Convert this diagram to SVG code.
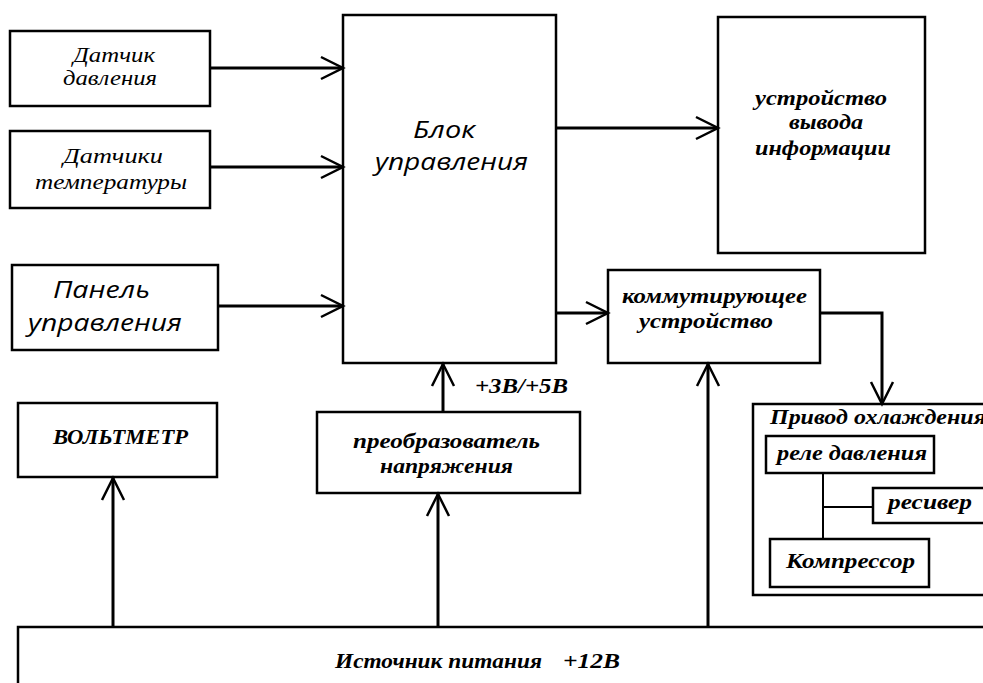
<svg xmlns="http://www.w3.org/2000/svg" width="983" height="683" viewBox="0 0 983 683">
<style>
.box{fill:#fff;stroke:#000;stroke-width:2.5}
.ln{fill:none;stroke:#000;stroke-width:3}
.thin{fill:none;stroke:#000;stroke-width:2}
.ser{font-family:"Liberation Serif",serif;font-style:italic;fill:#000;font-size:22px}
.b{font-weight:bold}
.sans{font-family:"Open Sans","Liberation Sans",sans-serif;font-style:italic;fill:#000;font-size:23px}
</style>
<defs>
<marker id="ah" markerUnits="userSpaceOnUse" markerWidth="30" markerHeight="26" viewBox="0 0 30 26" refX="25" refY="13" orient="auto">
<path d="M3,2 L25,13 L3,24" fill="none" stroke="#000" stroke-width="2.5"/>
</marker>
</defs>
<rect width="983" height="683" fill="#fff"/>
<g id="datchik-davleniya">
<rect class="box" x="10" y="31" width="200" height="75"/>
<text class="ser" x="73" y="62" textLength="82" lengthAdjust="spacingAndGlyphs">Датчик</text>
<text class="ser" x="63" y="85" textLength="94" lengthAdjust="spacingAndGlyphs">давления</text>
</g>
<g id="datchiki-temperatury">
<rect class="box" x="10" y="131" width="200" height="77"/>
<text class="ser" x="63" y="163" textLength="100" lengthAdjust="spacingAndGlyphs">Датчики</text>
<text class="ser" x="35" y="189" textLength="152" lengthAdjust="spacingAndGlyphs">температуры</text>
</g>
<g id="panel-upravleniya">
<rect class="box" x="12" y="265" width="206" height="85"/>
<text class="sans" x="53" y="298" textLength="97" lengthAdjust="spacingAndGlyphs">Панель</text>
<text class="sans" x="28" y="331" textLength="154" lengthAdjust="spacingAndGlyphs">управления</text>
</g>
<g id="blok-upravleniya">
<rect class="box" x="343" y="15" width="213" height="348"/>
<text class="sans" x="413" y="138" textLength="62" lengthAdjust="spacingAndGlyphs">Блок</text>
<text class="sans" x="375" y="170" textLength="153" lengthAdjust="spacingAndGlyphs">управления</text>
</g>
<g id="ustroystvo-vyvoda">
<rect class="box" x="718" y="17" width="207" height="236"/>
<text class="ser b" x="755" y="105" textLength="132" lengthAdjust="spacingAndGlyphs">устройство</text>
<text class="ser b" x="789" y="129" textLength="74" lengthAdjust="spacingAndGlyphs">вывода</text>
<text class="ser b" x="755" y="155" textLength="136" lengthAdjust="spacingAndGlyphs">информации</text>
</g>
<g id="kommutiruyushchee">
<rect class="box" x="608" y="270" width="212" height="93"/>
<text class="ser b" x="622" y="303" textLength="185" lengthAdjust="spacingAndGlyphs">коммутирующее</text>
<text class="ser b" x="639" y="328" textLength="134" lengthAdjust="spacingAndGlyphs">устройство</text>
</g>
<g id="privod-okhlazhdeniya">
<rect class="box" x="753" y="404" width="240" height="191"/>
<text class="ser b" x="770" y="424" textLength="216" lengthAdjust="spacingAndGlyphs">Привод охлаждения</text>
</g>
<g id="rele-davleniya">
<rect class="box" x="766" y="436" width="168" height="37"/>
<text class="ser b" x="777" y="460" textLength="150" lengthAdjust="spacingAndGlyphs">реле давления</text>
</g>
<g id="resiver">
<rect class="box" x="873" y="488" width="120" height="35"/>
<text class="ser b" x="888" y="509" textLength="84" lengthAdjust="spacingAndGlyphs">ресивер</text>
</g>
<g id="kompressor">
<rect class="box" x="770" y="539" width="159" height="48"/>
<text class="ser b" x="786" y="568" textLength="129" lengthAdjust="spacingAndGlyphs">Компрессор</text>
</g>
<g id="voltmetr">
<rect class="box" x="18" y="403" width="199" height="74"/>
<text class="ser b" font-size="20" x="53" y="444" textLength="135" lengthAdjust="spacingAndGlyphs">ВОЛЬТМЕТР</text>
</g>
<g id="preobrazovatel">
<rect class="box" x="317" y="412" width="263" height="81"/>
<text class="ser b" x="353" y="448" textLength="187" lengthAdjust="spacingAndGlyphs">преобразователь</text>
<text class="ser b" x="380" y="473" textLength="133" lengthAdjust="spacingAndGlyphs">напряжения</text>
</g>
<g id="label-3v5v">
<text class="ser b" x="475" y="393" textLength="93" lengthAdjust="spacingAndGlyphs">+3В/+5В</text>
</g>
<g id="istochnik-pitaniya">
<rect class="box" x="18" y="627" width="980" height="70"/>
<text class="ser b" x="335" y="668" textLength="207" lengthAdjust="spacingAndGlyphs">Источник питания</text>
<text class="ser b" x="563" y="668" textLength="57" lengthAdjust="spacingAndGlyphs">+12В</text>
</g>
<g id="connectors">
<line class="ln" x1="210" y1="68" x2="343" y2="68" marker-end="url(#ah)"/>
<line class="ln" x1="210" y1="167" x2="343" y2="167" marker-end="url(#ah)"/>
<line class="ln" x1="218" y1="306" x2="343" y2="306" marker-end="url(#ah)"/>
<line class="ln" x1="556" y1="128" x2="718" y2="128" marker-end="url(#ah)"/>
<line class="ln" x1="556" y1="313" x2="608" y2="313" marker-end="url(#ah)"/>
<polyline class="ln" points="820,313 882,313 882,404" marker-end="url(#ah)"/>
<line class="ln" x1="443" y1="412" x2="443" y2="364" marker-end="url(#ah)"/>
<line class="ln" x1="113" y1="627" x2="113" y2="478" marker-end="url(#ah)"/>
<line class="ln" x1="438" y1="627" x2="438" y2="494" marker-end="url(#ah)"/>
<line class="ln" x1="708" y1="627" x2="708" y2="364" marker-end="url(#ah)"/>
<line class="thin" x1="823" y1="473" x2="823" y2="539"/>
<line class="thin" x1="823" y1="507" x2="873" y2="507"/>
</g>
</svg>
